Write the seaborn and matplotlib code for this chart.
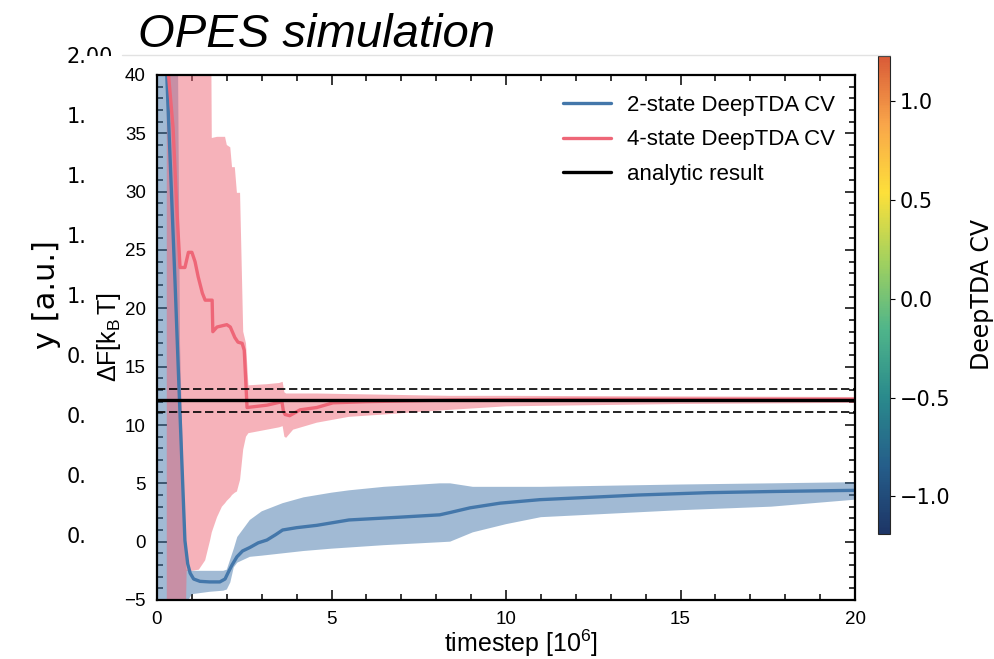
import numpy as np
import matplotlib
matplotlib.use('Agg')
import matplotlib.pyplot as plt
import seaborn as sns
from matplotlib.colors import LinearSegmentedColormap, Normalize
from matplotlib.cm import ScalarMappable
from matplotlib.patches import Rectangle
from matplotlib.lines import Line2D
from matplotlib.ticker import MultipleLocator

# 2-state DeepTDA CV: running estimate of Delta F
blue_x = [0.28, 0.40, 0.52, 0.62, 0.71, 0.80, 0.88, 0.95, 1.05, 1.23, 1.50, 1.80, 1.95,
          2.03, 2.15, 2.29, 2.45, 2.66, 2.90, 3.15, 3.40, 3.60, 4.00, 4.58, 5.50, 6.96,
          8.10, 8.40, 8.97, 9.83, 10.97, 12.4, 13.8, 15.8, 17.65, 20.0]
blue_y = [40.0, 31.0, 22.0, 14.0, 7.0, 0.1, -1.9, -2.7, -3.2, -3.4, -3.45, -3.45, -3.2,
          -2.7, -2.0, -1.3, -0.8, -0.5, -0.1, 0.14, 0.6, 1.0, 1.2, 1.4, 1.86, 2.1,
          2.3, 2.5, 2.9, 3.3, 3.6, 3.8, 4.0, 4.2, 4.3, 4.4]
blue_band_x = [0.00, 0.60, 0.66, 0.80, 0.85, 0.90, 1.00, 1.50, 1.90, 2.00, 2.10, 2.20, 2.30,
               2.66, 3.00, 3.60, 4.20, 5.00, 5.50, 6.50, 8.10, 8.40, 9.05, 10.0, 11.0, 13.0,
               15.0, 17.6, 20.0]
blue_hi = [60, 42, 17, 0.0, -2.4, -2.4, -2.5, -2.5, -2.5, -2.4, -1.5, -0.6, 0.4,
           1.86, 2.6, 3.3, 3.8, 4.2, 4.4, 4.7, 5.0, 5.0, 4.7, 4.7, 4.7, 4.8,
           4.9, 5.0, 5.1]
blue_lo = [-10, -10, -10, -10, -10, -5.0, -4.5, -4.3, -4.2, -4.1, -3.5, -2.2, -1.8,
           -1.3, -1.2, -1.0, -0.8, -0.6, -0.5, -0.3, -0.05, 0.0, 0.8, 1.5, 2.1, 2.4,
           2.7, 3.0, 3.6]

# 4-state DeepTDA CV
pink_x = [0.28, 0.33, 0.46, 0.57, 0.66, 0.80, 0.90, 1.00, 1.09, 1.18, 1.30, 1.38, 1.58,
          1.60, 1.72, 2.00, 2.10, 2.23, 2.32, 2.44, 2.50, 2.58, 3.15, 3.44, 3.58, 3.62,
          3.67, 3.80, 4.10, 4.58, 5.04, 6.0, 8.4, 12.0, 16.0, 20.0]
pink_y = [42.0, 40.0, 35.5, 28.4, 23.5, 23.5, 24.8, 24.8, 24.0, 22.7, 21.3, 20.7, 20.7,
          18.0, 18.4, 18.6, 18.4, 17.5, 17.1, 17.0, 16.4, 11.5, 11.7, 11.9, 12.0, 11.2,
          10.9, 10.8, 11.3, 11.5, 11.9, 12.0, 12.14, 12.2, 12.2, 12.2]
pink_band_x = [0.28, 0.80, 0.85, 1.00, 1.20, 1.38, 1.52, 1.57, 1.72, 1.86, 1.95, 2.00, 2.10,
               2.15, 2.23, 2.29, 2.38, 2.47, 2.55, 2.62, 3.15, 3.50, 3.60, 3.65, 3.70, 3.90,
               4.58, 5.50, 6.50, 7.40, 8.40, 10.0, 15.0, 20.0]
pink_hi = [60, 60, 60, 60, 60, 60, 60, 34.6, 34.7, 34.7, 34.7, 34.0, 33.8,
           32.1, 32.1, 29.9, 29.9, 18.0, 17.0, 13.4, 13.5, 13.6, 13.7, 12.8, 12.7, 12.7,
           12.7, 12.65, 12.6, 12.55, 12.5, 12.5, 12.45, 12.4]
pink_lo = [-10, -10, -2.5, -2.5, -2.4, -1.6, 0.1, 0.8, 2.1, 3.0, 3.3, 3.5, 3.8,
           4.0, 4.2, 4.3, 5.3, 7.9, 9.0, 9.3, 9.6, 9.8, 9.9, 9.0, 8.9, 9.6,
           10.2, 10.7, 10.9, 11.1, 11.3, 11.6, 11.8, 11.9]

analytic = 12.1
analytic_err = 1.0

outer_yticks = [0.0, 0.25, 0.5, 0.75, 1.0, 1.25, 1.5, 1.75, 2.0]
cbar_ticks = [-1.0, -0.5, 0.0, 0.5, 1.0]
cbar_range = (-1.19, 1.23)

sns.set_style('ticks')
plt.rcParams['font.family'] = ['DejaVu Sans']
plt.rcParams['text.color'] = 'black'
plt.rcParams['axes.labelcolor'] = 'black'
plt.rcParams['xtick.color'] = 'black'
plt.rcParams['ytick.color'] = 'black'
plt.rcParams['mathtext.fontset'] = 'custom'
plt.rcParams['mathtext.rm'] = 'Liberation Sans'
plt.rcParams['mathtext.it'] = 'Liberation Sans:italic'
plt.rcParams['mathtext.bf'] = 'Liberation Sans:bold'

W, H = 994, 659


def box(l, t, r, b):
    return [l / W, 1 - b / H, (r - l) / W, (b - t) / H]


fig = plt.figure(figsize=(W / 100, H / 100), dpi=100)

# outer (background) plot, mostly hidden under the inset
ax_out = fig.add_axes(box(123, 55, 868, 535))
ax_out.set_zorder(0)
ax_out.set_ylim(0, 2.0)
ax_out.set_xlim(0, 1)
ax_out.set_yticks(outer_yticks)
ax_out.set_yticklabels([f'{v:.2f}' for v in outer_yticks])
ax_out.set_xticks([])
ax_out.tick_params(labelsize=15, length=0, pad=7)
for s in ax_out.spines.values():
    s.set_visible(False)
ax_out.set_ylabel('y [a.u.]', fontsize=22)

colors = ['#1d3566', '#255e8a', '#2a8a8c', '#4fb58a', '#a2d15e', '#fde03a', '#f9a64a', '#d95b38']
cmap = LinearSegmentedColormap.from_list('deeptda', colors)
cax = fig.add_axes(box(878, 56, 890, 534))
sm = ScalarMappable(norm=Normalize(*cbar_range), cmap=cmap)
cb = fig.colorbar(sm, cax=cax)
cb.set_ticks(cbar_ticks)
cb.set_label('DeepTDA CV', fontsize=17, labelpad=14)
cax.tick_params(labelsize=15)

fig.text(138 / W, 1 - 47 / H, 'OPES simulation', fontsize=34, style='italic',
         family='Liberation Sans', ha='left', va='baseline')

# white panel of the inset figure
fig.add_artist(Rectangle((85 / W, 0), (872 - 85) / W, (H - 56) / H, transform=fig.transFigure,
                         facecolor='white', edgecolor='none', zorder=1))
fig.add_artist(Line2D([122 / W, 890 / W], [1 - 54.5 / H] * 2, transform=fig.transFigure,
                      color='#e2e2e2', lw=1, zorder=1.5))

# inner plot
ax = fig.add_axes(box(157, 75, 855, 600))
ax.set_zorder(2)
blue = '#4477AA'
pink = '#EE6677'
ax.fill_between(blue_band_x, blue_lo, blue_hi, color=blue, alpha=0.5, lw=0)
ax.fill_between(pink_band_x, pink_lo, pink_hi, color=pink, alpha=0.5, lw=0)
sns.lineplot(x=blue_x, y=blue_y, ax=ax, color=blue, lw=2.4, label='2-state DeepTDA CV')
sns.lineplot(x=pink_x, y=pink_y, ax=ax, color=pink, lw=2.4, label='4-state DeepTDA CV')
ax.axhline(analytic, color='black', lw=2.4, label='analytic result')
ax.axhline(analytic + analytic_err, color='black', lw=1.2, ls=(0, (5, 2.2)))
ax.axhline(analytic - analytic_err, color='black', lw=1.2, ls=(0, (5, 2.2)))

ax.set_xlim(0, 20)
ax.set_ylim(-5, 40)
ax.set_xticks([0, 5, 10, 15, 20])
ax.set_yticks(list(range(-5, 41, 5)))
ax.xaxis.set_minor_locator(MultipleLocator(1))
ax.yaxis.set_minor_locator(MultipleLocator(1))
ax.tick_params(which='both', direction='in', top=True, right=True, width=1.1, color='black')
ax.tick_params(which='major', length=7, pad=8, labelsize=13.5)
ax.tick_params(which='minor', length=4.5)
plt.setp(ax.get_xticklabels() + ax.get_yticklabels(), fontfamily='Liberation Sans')
for s in ax.spines.values():
    s.set_linewidth(1.6)
    s.set_color('black')
ax.set_xlabel(r'timestep [10$^6$]', fontsize=18, family='Liberation Sans')
ax.xaxis.set_label_coords(0.522, -0.052)
ax.set_ylabel(r'$\mathrm{\Delta F[k_B\,T]}$', fontsize=18, labelpad=1)
ax.legend(loc='upper right', frameon=False, prop={'family': 'Liberation Sans', 'size': 16},
          handlelength=2.2, labelspacing=0.6, handletextpad=0.7, borderaxespad=0.5)

fig.savefig('out.png', dpi=100)
